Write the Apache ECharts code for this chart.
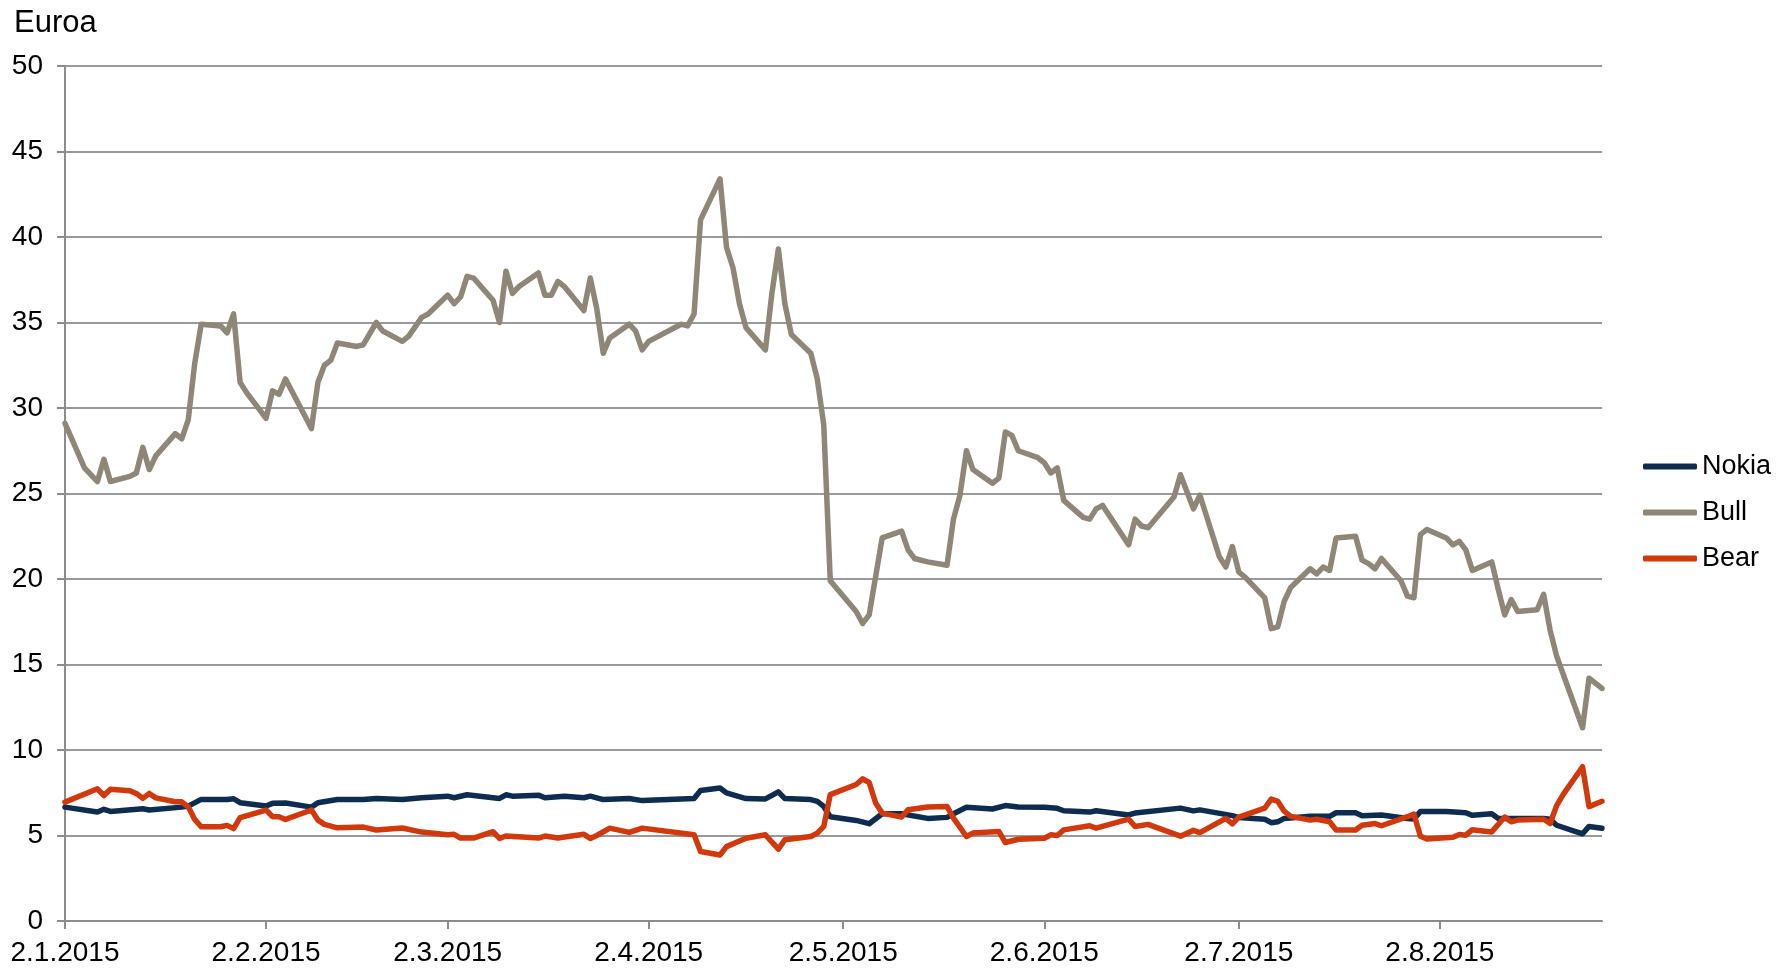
<!DOCTYPE html>
<html>
<head>
<meta charset="utf-8">
<title>Nokia, Bull, Bear</title>
<script src="https://cdn.jsdelivr.net/npm/echarts@6.0.0/dist/echarts.min.js"></script>
<style>
  html, body { margin: 0; padding: 0; background: #fff; }
  #chart { width: 1787px; height: 968px; }
</style>
</head>
<body>
<div id="chart"></div>
<script>
// all dates are in 2015, written as 'month/day'
const year = 2015
const firstDay = '1/2'
const lastDay = '8/27'
const tickDays = ['1/2', '2/2', '3/2', '4/2', '5/2', '6/2', '7/2', '8/2']
const yTicks = [0, 5, 10, 15, 20, 25, 30, 35, 40, 45, 50]
const seriesNames = ['Nokia', 'Bull', 'Bear']

const nokiaDays = [
  '1/2', '1/7', '1/8', '1/9', '1/14', '1/15', '1/20', '1/21', '1/23', '1/27', '1/28', '1/29',
  '2/2', '2/3', '2/5', '2/9', '2/10', '2/13', '2/17', '2/19', '2/23', '2/26',
  '3/2', '3/3', '3/5', '3/10', '3/11', '3/12', '3/16', '3/17', '3/20', '3/23', '3/24', '3/26', '3/30',
  '4/1', '4/9', '4/10', '4/13', '4/14', '4/17', '4/20', '4/22', '4/23', '4/27', '4/28', '4/29', '4/30',
  '5/4', '5/6', '5/8', '5/11', '5/15', '5/18', '5/19', '5/21', '5/25', '5/27', '5/29',
  '6/2', '6/4', '6/5', '6/9', '6/10', '6/15', '6/16', '6/23', '6/25', '6/26',
  '7/1', '7/2', '7/6', '7/7', '7/8', '7/9', '7/13', '7/16', '7/17', '7/20', '7/21', '7/24', '7/28', '7/29', '7/30',
  '8/3', '8/6', '8/7', '8/10', '8/11', '8/18', '8/19', '8/20', '8/24', '8/25', '8/27'
]
const nokiaValues = [
  6.66, 6.37, 6.53, 6.41, 6.56, 6.49, 6.66, 6.72, 7.11, 7.11, 7.15, 6.92,
  6.72, 6.88, 6.9, 6.66, 6.92, 7.11, 7.11, 7.17, 7.11, 7.21,
  7.3, 7.21, 7.38, 7.17, 7.38, 7.3, 7.36, 7.21, 7.3, 7.21, 7.3, 7.1, 7.16,
  7.04, 7.16, 7.63, 7.78, 7.49, 7.16, 7.14, 7.55, 7.16, 7.1, 7.0, 6.7, 6.1,
  5.88, 5.69, 6.27, 6.27, 6.0, 6.06, 6.27, 6.65, 6.55, 6.75, 6.67,
  6.65, 6.59, 6.45, 6.37, 6.45, 6.2, 6.31, 6.6, 6.44, 6.5,
  6.16, 6.05, 5.95, 5.75, 5.8, 6.0, 6.12, 6.12, 6.33, 6.33, 6.16, 6.2, 6.0, 5.97, 6.4,
  6.4, 6.33, 6.18, 6.27, 6.0, 6.0, 5.95, 5.6, 5.1, 5.53, 5.42
]

const bullDays = [
  '1/2', '1/5', '1/7', '1/8', '1/9', '1/12', '1/13', '1/14', '1/15', '1/16', '1/19', '1/20', '1/21', '1/22', '1/23', '1/26', '1/27', '1/28', '1/29', '1/30',
  '2/2', '2/3', '2/4', '2/5', '2/9', '2/10', '2/11', '2/12', '2/13', '2/16', '2/17', '2/19', '2/20', '2/23', '2/24', '2/26', '2/27',
  '3/2', '3/3', '3/4', '3/5', '3/6', '3/9', '3/10', '3/11', '3/12', '3/13', '3/16', '3/17', '3/18', '3/19', '3/20', '3/23', '3/24', '3/25', '3/26', '3/27', '3/30', '3/31',
  '4/1', '4/2', '4/7', '4/8', '4/9', '4/10', '4/13', '4/14', '4/15', '4/16', '4/17', '4/20', '4/21', '4/22', '4/23', '4/24', '4/27', '4/28', '4/29', '4/30',
  '5/4', '5/5', '5/6', '5/8', '5/11', '5/12', '5/13', '5/15', '5/18', '5/19', '5/20', '5/21', '5/22', '5/25', '5/26', '5/27', '5/28', '5/29',
  '6/1', '6/2', '6/3', '6/4', '6/5', '6/8', '6/9', '6/10', '6/11', '6/15', '6/16', '6/17', '6/18', '6/22', '6/23', '6/25', '6/26', '6/29', '6/30',
  '7/1', '7/2', '7/3', '7/6', '7/7', '7/8', '7/9', '7/10', '7/13', '7/14', '7/15', '7/16', '7/17', '7/20', '7/21', '7/22', '7/23', '7/24', '7/27', '7/28', '7/29', '7/30', '7/31',
  '8/3', '8/4', '8/5', '8/6', '8/7', '8/10', '8/11', '8/12', '8/13', '8/14', '8/17', '8/18', '8/19', '8/20', '8/24', '8/25', '8/27'
]
const bullValues = [
  29.1, 26.5, 25.7, 27.0, 25.7, 26.0, 26.2, 27.7, 26.4, 27.2, 28.5, 28.2, 29.3, 32.6, 34.9, 34.8, 34.4, 35.5, 31.5, 30.9,
  29.4, 31.0, 30.8, 31.7, 28.8, 31.5, 32.5, 32.8, 33.8, 33.6, 33.7, 35.0, 34.5, 33.9, 34.2, 35.3, 35.5,
  36.6, 36.1, 36.5, 37.7, 37.6, 36.3, 35.0, 38.0, 36.7, 37.1, 37.9, 36.6, 36.6, 37.4, 37.1, 35.7, 37.6, 35.8, 33.2, 34.1, 34.9, 34.5,
  33.4, 33.9, 34.9, 34.8, 35.5, 41.0, 43.4, 39.4, 38.2, 36.1, 34.7, 33.4, 36.7, 39.3, 36.1, 34.3, 33.2, 31.7, 29.0, 19.9,
  18.1, 17.4, 17.9, 22.4, 22.8, 21.7, 21.2, 21.0, 20.8, 23.5, 24.9, 27.5, 26.4, 25.6, 25.9, 28.6, 28.4, 27.5,
  27.1, 26.8, 26.2, 26.5, 24.6, 23.6, 23.5, 24.1, 24.3, 22.0, 23.5, 23.1, 23.0, 24.8, 26.1, 24.1, 24.9, 21.3, 20.7,
  21.9, 20.4, 20.1, 18.9, 17.1, 17.2, 18.7, 19.5, 20.6, 20.3, 20.7, 20.5, 22.4, 22.5, 21.1, 20.9, 20.6, 21.2, 19.9, 19.0, 18.9, 22.6, 22.9,
  22.4, 22.0, 22.2, 21.7, 20.5, 21.0, 19.4, 17.9, 18.8, 18.1, 18.2, 19.1, 17.0, 15.5, 11.3, 14.2, 13.6
]

const bearDays = [
  '1/2', '1/7', '1/8', '1/9', '1/12', '1/13', '1/14', '1/15', '1/16', '1/19', '1/20', '1/21', '1/22', '1/23', '1/26', '1/27', '1/28', '1/29',
  '2/2', '2/3', '2/4', '2/5', '2/9', '2/10', '2/11', '2/13', '2/17', '2/19', '2/23', '2/26',
  '3/2', '3/3', '3/4', '3/6', '3/9', '3/10', '3/11', '3/16', '3/17', '3/19', '3/23', '3/24', '3/25', '3/27', '3/30',
  '4/1', '4/9', '4/10', '4/13', '4/14', '4/17', '4/20', '4/22', '4/23', '4/27', '4/28', '4/29', '4/30',
  '5/4', '5/5', '5/6', '5/7', '5/8', '5/11', '5/12', '5/15', '5/18', '5/19', '5/21', '5/22', '5/26', '5/27', '5/29',
  '6/2', '6/3', '6/4', '6/5', '6/9', '6/10', '6/15', '6/16', '6/18', '6/23', '6/25', '6/26', '6/30',
  '7/1', '7/2', '7/6', '7/7', '7/8', '7/9', '7/10', '7/13', '7/14', '7/16', '7/17', '7/20', '7/21', '7/23', '7/24', '7/28', '7/29', '7/30', '7/31',
  '8/4', '8/5', '8/6', '8/7', '8/10', '8/12', '8/13', '8/14', '8/18', '8/19', '8/20', '8/21', '8/24', '8/25', '8/27'
]
const bearValues = [
  6.95, 7.73, 7.34, 7.7, 7.62, 7.46, 7.17, 7.46, 7.2, 6.97, 6.97, 6.68, 5.94, 5.51, 5.51, 5.59, 5.4, 6.04,
  6.49, 6.1, 6.1, 5.94, 6.49, 5.9, 5.65, 5.45, 5.49, 5.32, 5.44, 5.2,
  5.05, 5.07, 4.85, 4.85, 5.22, 4.83, 4.97, 4.85, 4.97, 4.85, 5.07, 4.83, 5.0, 5.43, 5.18,
  5.43, 5.04, 4.06, 3.86, 4.35, 4.84, 5.04, 4.2, 4.75, 4.94, 5.14, 5.53, 7.39,
  7.98, 8.31, 8.1, 6.9, 6.31, 6.08, 6.51, 6.67, 6.7, 6.02, 4.94, 5.14, 5.24, 4.59, 4.78,
  4.84, 5.04, 5.0, 5.33, 5.57, 5.43, 5.96, 5.53, 5.65, 4.96, 5.3, 5.17, 6.0,
  5.68, 6.08, 6.6, 7.13, 7.0, 6.42, 6.12, 5.9, 5.95, 5.8, 5.32, 5.32, 5.6, 5.7, 5.57, 6.1, 6.25, 4.96, 4.79,
  4.9, 5.06, 5.02, 5.34, 5.21, 6.08, 5.8, 5.9, 5.95, 5.7, 6.75, 7.39, 9.02, 6.69, 7.0
]

const colors = ['#0e2c4f', '#8e8676', '#d1390c']
const axisGray = '#8c8c8c'
const font = '"Liberation Sans", Arial, sans-serif'

// x is the number of days since 2.1.2015
function toDay (day) {
  const parts = day.split('/')
  const t = Date.UTC(year, Number(parts[0]) - 1, Number(parts[1]))
  return Math.round((t - Date.UTC(year, 0, 2)) / 86400000)
}

function pairs (days, values) {
  return days.map(function (d, i) { return [toDay(d), values[i]] })
}

function dateLabel (value) {
  const d = new Date(Date.UTC(year, 0, 2) + value * 86400000)
  return d.getUTCDate() + '.' + (d.getUTCMonth() + 1) + '.' + d.getUTCFullYear()
}

const seriesData = [
  pairs(nokiaDays, nokiaValues),
  pairs(bullDays, bullValues),
  pairs(bearDays, bearValues)
]
const tickValues = tickDays.map(toDay)

let option = {
  animation: false,
  textStyle: { fontFamily: font },
  color: colors,
  title: {
    text: 'Euroa',
    left: 9,
    top: 3,
    textStyle: { fontFamily: font, fontSize: 31, fontWeight: 'normal', color: '#000' }
  },
  legend: {
    data: seriesNames,
    orient: 'vertical',
    left: 1643,
    top: 453,
    padding: 0,
    icon: 'roundRect',
    itemWidth: 54,
    itemHeight: 6,
    itemGap: 19,
    textStyle: { fontFamily: font, fontSize: 27, color: '#000' }
  },
  grid: {
    left: 65,
    right: 185,
    top: 66,
    bottom: 47
  },
  xAxis: {
    type: 'value',
    min: toDay(firstDay),
    max: toDay(lastDay),
    axisLine: { lineStyle: { color: axisGray, width: 2 } },
    axisTick: {
      show: true,
      customValues: tickValues,
      length: 8,
      lineStyle: { color: axisGray, width: 2 }
    },
    axisLabel: {
      customValues: tickValues,
      formatter: dateLabel,
      fontFamily: font,
      fontSize: 28,
      color: '#000',
      margin: 18
    },
    splitLine: { show: false }
  },
  yAxis: {
    type: 'value',
    min: yTicks[0],
    max: yTicks[yTicks.length - 1],
    interval: yTicks[1] - yTicks[0],
    axisLine: { show: true, lineStyle: { color: axisGray, width: 2 } },
    axisTick: { show: true, length: 8, lineStyle: { color: axisGray, width: 2 } },
    axisLabel: { fontFamily: font, fontSize: 28, color: '#000', margin: 22 },
    splitLine: { lineStyle: { color: '#999999', width: 2 } }
  },
  series: seriesNames.map(function (name, i) {
    return {
      name: name,
      type: 'line',
      data: seriesData[i],
      symbol: 'none',
      lineStyle: { width: 5.5, color: colors[i], cap: 'round', join: 'round' },
      itemStyle: { color: colors[i] }
    }
  })
}

const chart = echarts.init(document.getElementById('chart'))
chart.setOption(option)
</script>
</body>
</html>
